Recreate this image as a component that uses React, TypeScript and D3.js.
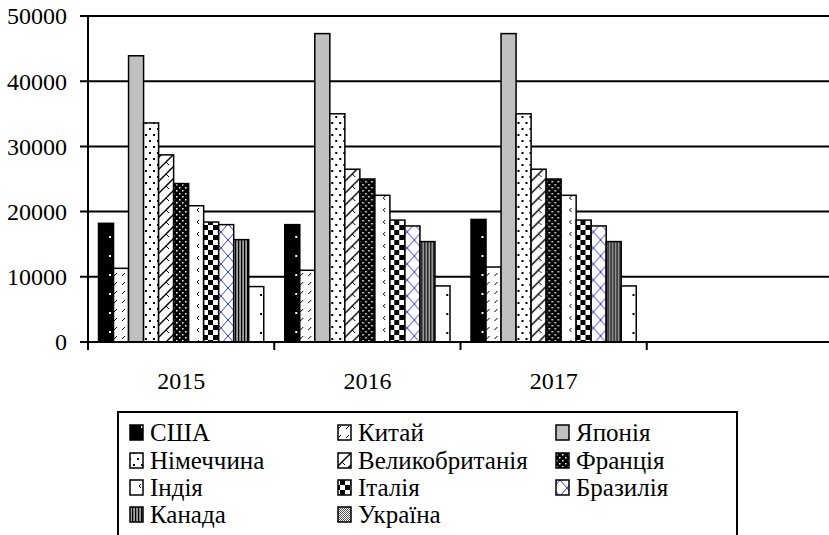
import React from 'react';
import * as d3 from 'd3';

const years = ['2015', '2016', '2017', ''];
const countries = ['США', 'Китай', 'Японія', 'Німеччина', 'Великобританія', 'Франція', 'Індія', 'Італія', 'Бразилія', 'Канада', 'Україна'];

const usa = [18200, 18000, 18800];
const china = [11300, 11000, 11500];
const japan = [43900, 47300, 47300];
const germany = [33600, 35000, 35000];
const uk = [28700, 26500, 26500];
const france = [24300, 25000, 25000];
const india = [20900, 22500, 22500];
const italy = [18400, 18700, 18700];
const brazil = [18000, 17800, 17800];
const canada = [15700, 15400, 15400];
const ukraine = [8500, 8600, 8600];

const series = [usa, china, japan, germany, uk, france, india, italy, brazil, canada, ukraine];
const yTicks = [0, 10000, 20000, 30000, 40000, 50000];

const W = 829;
const H = 535;
const FONT = "'Liberation Serif', 'Times New Roman', Times, serif";

function Patterns() {
  return (
    <defs>
      <pattern id="p0" width="15" height="19" patternUnits="userSpaceOnUse">
        <rect width="15" height="19" fill="#000" />
        <rect x="6" y="8" width="2" height="2" fill="#fff" />
      </pattern>
      <pattern id="p1" width="8" height="9" patternUnits="userSpaceOnUse">
        <rect width="8" height="9" fill="#fff" />
        <line x1="2" y1="6" x2="5" y2="3" stroke="#000" strokeWidth="1" />
      </pattern>
      <pattern id="p2" width="4" height="4" patternUnits="userSpaceOnUse">
        <rect width="4" height="4" fill="#c0c0c0" />
      </pattern>
      <pattern id="p3" width="8" height="12" patternUnits="userSpaceOnUse">
        <rect width="8" height="12" fill="#fff" />
        <rect x="1" y="2" width="2" height="2" fill="#000" />
        <rect x="5" y="8" width="2" height="2" fill="#000" />
      </pattern>
      <pattern id="p4" width="12" height="12" patternUnits="userSpaceOnUse">
        <rect width="12" height="12" fill="#fff" />
        <line x1="0" y1="12" x2="12" y2="0" stroke="#000" strokeWidth="1.4" />
        <line x1="-3" y1="3" x2="3" y2="-3" stroke="#000" strokeWidth="1.4" />
        <line x1="9" y1="15" x2="15" y2="9" stroke="#000" strokeWidth="1.4" />
        <line x1="6" y1="6" x2="9" y2="9" stroke="#000" strokeWidth="1" />
      </pattern>
      <pattern id="p5" width="6" height="6" patternUnits="userSpaceOnUse">
        <rect width="6" height="6" fill="#000" />
        <rect x="1" y="1" width="1.5" height="1.5" fill="#fff" />
        <rect x="4" y="4" width="1.5" height="1.5" fill="#fff" />
      </pattern>
      <pattern id="p6" width="15" height="12" patternUnits="userSpaceOnUse">
        <rect width="15" height="12" fill="#fff" />
        <path d="M6,4 L4,6 L6,8" fill="none" stroke="#000" strokeWidth="1" />
      </pattern>
      <pattern id="p7" width="10" height="10" patternUnits="userSpaceOnUse">
        <rect width="10" height="10" fill="#fff" />
        <rect width="5" height="5" fill="#000" />
        <rect x="5" y="5" width="5" height="5" fill="#000" />
      </pattern>
      <pattern id="p8" width="14" height="16" patternUnits="userSpaceOnUse">
        <rect width="14" height="16" fill="#fff" />
        <line x1="0" y1="0" x2="14" y2="16" stroke="#3a3acc" strokeWidth="1" />
        <line x1="14" y1="0" x2="0" y2="16" stroke="#3a3acc" strokeWidth="1" />
      </pattern>
      <pattern id="p9" width="3" height="4" patternUnits="userSpaceOnUse">
        <rect width="3" height="4" fill="#a0a0a0" />
        <rect width="1.2" height="4" fill="#000" />
      </pattern>
      <pattern id="p10" width="15" height="19" patternUnits="userSpaceOnUse">
        <rect width="15" height="19" fill="#fff" />
        <rect x="7" y="9" width="2" height="2" fill="#000" />
      </pattern>
      <pattern id="p10l" width="2" height="2" patternUnits="userSpaceOnUse">
        <rect width="2" height="2" fill="#fff" />
        <rect width="1" height="1" fill="#555" />
        <rect x="1" y="1" width="1" height="1" fill="#555" />
      </pattern>
    </defs>
  );
}

export default function App() {
  const left = 88;
  const right = 833;
  const top = 16;
  const bottom = 342;

  const x0 = d3.scaleBand<string>().domain(years).range([left, right]).paddingInner(0).paddingOuter(0);
  const x1 = d3.scaleBand<number>()
    .domain(d3.range(countries.length))
    .range([0, x0.bandwidth()])
    .paddingInner(0)
    .paddingOuter(0.7);
  const y = d3.scaleLinear().domain([0, 50000]).range([bottom, top]);

  const boundaries = years.map(yr => x0(yr) as number);

  const legendCols = [130, 338, 556];
  const legendRows = [432, 460, 487, 514];

  return (
    <svg width={W} height={H} style={{ position: 'absolute', left: 0, top: 0, background: '#fff', fontFamily: FONT }}>
      <Patterns />
      {/* gridlines */}
      {yTicks.filter(t => t > 0).map(t => (
        <line key={t} x1={left - 8} x2={right} y1={y(t)} y2={y(t)} stroke="#000" strokeWidth={2} />
      ))}
      {/* bars */}
      {years.slice(0, 3).map((yr, gi) => (
        <g key={yr} transform={`translate(${x0(yr)},0)`}>
          {series.map((s, si) => (
            <rect
              key={si}
              x={x1(si)}
              y={y(s[gi])}
              width={x1.bandwidth()}
              height={bottom - y(s[gi])}
              fill={`url(#p${si})`}
              stroke="#000"
              strokeWidth={1.5}
            />
          ))}
        </g>
      ))}
      {/* axes */}
      <line x1={left} x2={left} y1={top - 1} y2={bottom + 8} stroke="#000" strokeWidth={2} />
      <line x1={left - 8} x2={right} y1={bottom} y2={bottom} stroke="#000" strokeWidth={2} />
      {boundaries.map((b, i) => (
        <line key={i} x1={b} x2={b} y1={bottom} y2={bottom + 8} stroke="#000" strokeWidth={2} />
      ))}
      {yTicks.map(t => (
        <text key={t} x={67} y={y(t)} dy="0.35em" textAnchor="end" fontSize={24} fill="#000">
          {t}
        </text>
      ))}
      {years.map(yr => (
        <text key={yr} x={(x0(yr) as number) + x0.bandwidth() / 2} y={389} textAnchor="middle" fontSize={24} fill="#000">
          {yr}
        </text>
      ))}
      {/* legend */}
      <rect x={118} y={412} width={619} height={140} fill="#fff" stroke="#000" strokeWidth={2} />
      {countries.map((c, i) => {
        const col = i % 3;
        const row = Math.floor(i / 3);
        const lx = legendCols[col];
        const ly = legendRows[row];
        return (
          <g key={c}>
            <rect x={lx} y={ly - 7} width={13} height={15} fill={i === 10 ? 'url(#p10l)' : `url(#p${i})`} stroke="#000" strokeWidth={1.5} />
            <text x={lx + 20} y={ly} dy="0.35em" fontSize={25} fill="#000">
              {c}
            </text>
          </g>
        );
      })}
    </svg>
  );
}
